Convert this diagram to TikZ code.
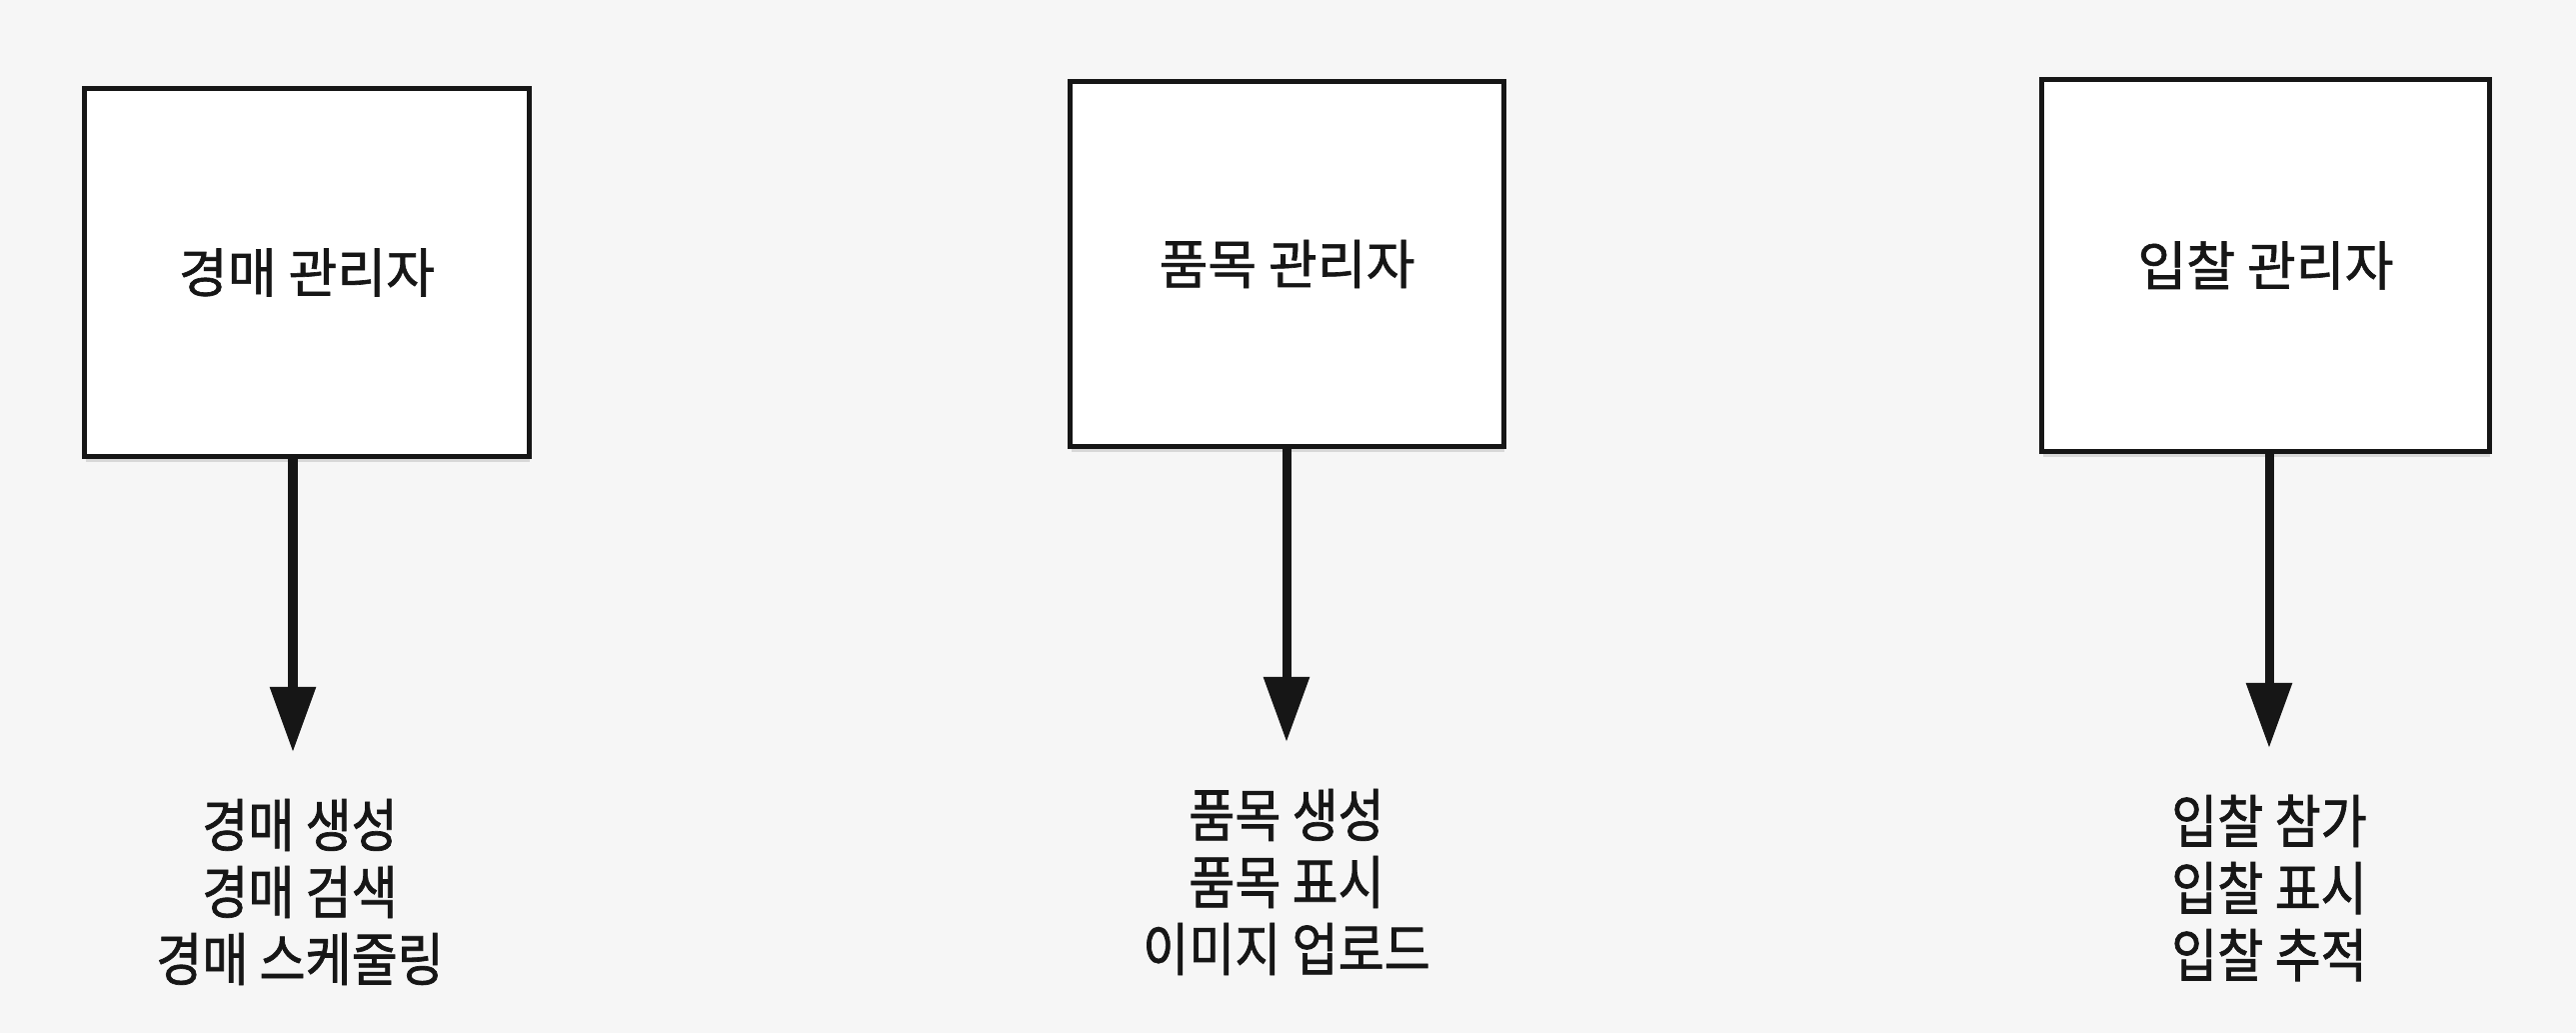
\documentclass[tikz,border=0pt]{standalone}
\usepackage{fontspec}
\newfontfamily\krtitle[FakeBold=1.2]{Noto Sans CJK KR}
\newfontfamily\krlist[FakeStretch=0.87,FakeBold=1.2]{Noto Sans CJK KR}
\usetikzlibrary{arrows.meta,shadows}
\definecolor{paper}{RGB}{246,246,246}
\definecolor{ink}{RGB}{22,22,22}
\tikzset{
  mgrbox/.style={draw=ink, line width=0.05cm, fill=white, inner sep=0pt,
    font=\krtitle\fontsize{15.1pt}{18pt}\selectfont, text=ink,
    drop shadow={opacity=0.25, shadow xshift=0.01cm, shadow yshift=-0.06cm}},
  flow/.style={draw=ink, line width=0.09cm, -{Triangle[length=0.65cm,width=0.44cm]}},
  featlist/.style={align=center, inner sep=0pt, text=ink,
    font=\krlist\fontsize{16.36pt}{19.06pt}\selectfont}
}
\begin{document}
\begin{tikzpicture}[x=0.01cm,y=-0.01cm]
\useasboundingbox[fill=paper] (0,0) rectangle (2577,1033);
% boxes
\node[mgrbox, minimum width=4.44cm, minimum height=3.67cm] (b1) at (307,272.5) {경매 관리자};
\node[mgrbox, minimum width=4.33cm, minimum height=3.64cm] (b2) at (1287.5,264) {품목 관리자};
\node[mgrbox, minimum width=4.47cm, minimum height=3.71cm] (b3) at (2266.5,265.5) {입찰 관리자};
% arrow tips
\coordinate (t1) at (293,752);
\coordinate (t2) at (1287,742);
\coordinate (t3) at (2270,748);
\draw[flow] (b1.south -| t1) -- (t1);
\draw[flow] (b2.south -| t2) -- (t2);
\draw[flow] (b3.south -| t3) -- (t3);
% feature lists
\node[featlist] (l1) at (300,892) {경매 생성\\경매 검색\\경매 스케줄링};
\node[featlist] (l2) at (1287,882) {품목 생성\\품목 표시\\이미지 업로드};
\node[featlist] (l3) at (2270,888) {입찰 참가\\입찰 표시\\입찰 추적};
\end{tikzpicture}
\end{document}
